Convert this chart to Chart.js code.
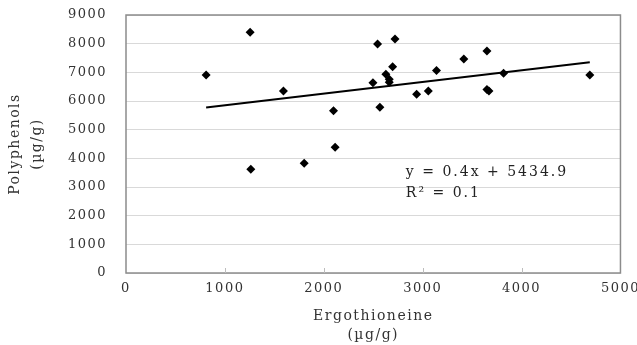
<!DOCTYPE html>
<html>
<head>
<meta charset="utf-8">
<script src="https://cdn.jsdelivr.net/npm/chart.js@4.4.1/dist/chart.umd.min.js"></script>
<style>
  html, body { margin: 0; padding: 0; background: #fff; }
  #wrap { width: 637px; height: 345px; }
</style>
</head>
<body>
<div id="wrap"><canvas id="scatterChart"></canvas></div>
<script>
// Ergothioneine (x) vs Polyphenols (y), both in µg/g
const ergothioneine = [810, 1255, 1592, 1262, 1802, 2098, 2115, 2497, 2544, 2567, 2628, 2662, 2662, 2696, 2720, 2939, 3057, 3140, 3416, 3650, 3650, 3670, 3818, 4690];
const polyphenols   = [6906, 8395, 6348, 3617, 3826, 5661, 4384, 6638, 7987, 5779, 6930, 6756, 6651, 7196, 8162, 6232, 6348, 7068, 7464, 7743, 6400, 6350, 6965, 6906];
const xTicks = [0, 1000, 2000, 3000, 4000, 5000];
const yTicks = [0, 1000, 2000, 3000, 4000, 5000, 6000, 7000, 8000, 9000];
const equationText = ['y = 0.4x + 5434.9', 'R\u00b2 = 0.1'];
const equationAt = { x: 2830, y: 3500 };

// least squares fit, drawn between the smallest and largest x
function linearFit(xs, ys) {
  const n = xs.length;
  const mx = xs.reduce((a, b) => a + b, 0) / n;
  const my = ys.reduce((a, b) => a + b, 0) / n;
  let sxy = 0, sxx = 0;
  for (let i = 0; i < n; i++) {
    sxy += (xs[i] - mx) * (ys[i] - my);
    sxx += (xs[i] - mx) * (xs[i] - mx);
  }
  const slope = sxy / sxx;
  return { slope, intercept: my - slope * mx };
}

const fit = linearFit(ergothioneine, polyphenols);
const xMin = Math.min(...ergothioneine);
const xMax = Math.max(...ergothioneine);
const trend = [xMin, xMax].map(x => ({ x, y: fit.slope * x + fit.intercept }));

const FONT = "'DejaVu Serif', 'Liberation Serif', serif";

const frame = {
  id: 'frame',
  beforeDraw(chart) { chart.ctx.letterSpacing = '1.5px'; },
  afterDatasetsDraw(chart) {
    const { ctx, chartArea: a, scales } = chart;
    ctx.save();
    ctx.strokeStyle = '#8c8c8c';
    ctx.lineWidth = 1.5;
    ctx.strokeRect(a.left, a.top, a.right - a.left, a.bottom - a.top);
    ctx.lineWidth = 1;
    ctx.strokeStyle = '#bdbdbd';
    xTicks.slice(1, -1).forEach(v => {
      const px = Math.round(scales.x.getPixelForValue(v)) + 0.5;
      ctx.beginPath();
      ctx.moveTo(px, a.bottom);
      ctx.lineTo(px, a.bottom - 5);
      ctx.stroke();
    });
    ctx.fillStyle = '#222';
    ctx.font = '14px ' + FONT;
    ctx.letterSpacing = '2px';
    ctx.textBaseline = 'middle';
    const ex = scales.x.getPixelForValue(equationAt.x);
    const ey = scales.y.getPixelForValue(equationAt.y);
    equationText.forEach((t, i) => ctx.fillText(t, ex, ey + i * 21));
    ctx.restore();
  }
};

new Chart(document.getElementById('scatterChart'), {
  type: 'scatter',
  data: {
    datasets: [
      {
        label: 'Samples',
        data: ergothioneine.map((x, i) => ({ x, y: polyphenols[i] })),
        pointStyle: 'rectRot',
        pointRadius: 4.5,
        pointHoverRadius: 4.5,
        backgroundColor: '#000',
        borderColor: '#000',
        borderWidth: 0
      },
      {
        label: 'Linear',
        type: 'line',
        data: trend,
        borderColor: '#000',
        borderWidth: 2,
        pointRadius: 0,
        fill: false
      }
    ]
  },
  options: {
    responsive: true,
    maintainAspectRatio: false,
    animation: false,
    layout: { padding: { top: 15, right: 0, left: 5, bottom: 0 } },
    plugins: { legend: { display: false }, tooltip: { enabled: false } },
    scales: {
      x: {
        type: 'linear',
        min: 0,
        max: 5000,
        afterBuildTicks: s => { s.ticks = xTicks.map(v => ({ value: v })); },
        afterFit: s => { s.height = 72; },
        grid: { display: true, drawOnChartArea: false, drawTicks: true, tickLength: 8, tickColor: 'transparent', color: 'transparent' },
        border: { display: false },
        ticks: {
          color: '#333', padding: 0, maxRotation: 0, minRotation: 0,
          font: { family: FONT, size: 13 },
          callback: v => String(v)
        },
        title: {
          display: true,
          text: ['Ergothioneine', '(\u00b5g/g)'],
          color: '#333',
          padding: { top: 0, bottom: 0 },
          font: { family: FONT, size: 14, lineHeight: 1.35 }
        }
      },
      y: {
        min: 0,
        max: 9000,
        afterBuildTicks: s => { s.ticks = yTicks.map(v => ({ value: v })); },
        afterFit: s => { s.width = 121; },
        grid: { color: '#d9d9d9', lineWidth: 1, drawTicks: true, tickLength: 16, tickColor: 'transparent' },
        border: { display: false },
        ticks: {
          color: '#333', padding: 3,
          font: { family: FONT, size: 13 },
          callback: v => String(v)
        },
        title: {
          display: true,
          text: ['Polyphenols', '(\u00b5g/g)'],
          color: '#333',
          padding: { top: 0, bottom: 0 },
          font: { family: FONT, size: 14, lineHeight: 1.55 }
        }
      }
    }
  },
  plugins: [frame]
});
</script>
</body>
</html>
